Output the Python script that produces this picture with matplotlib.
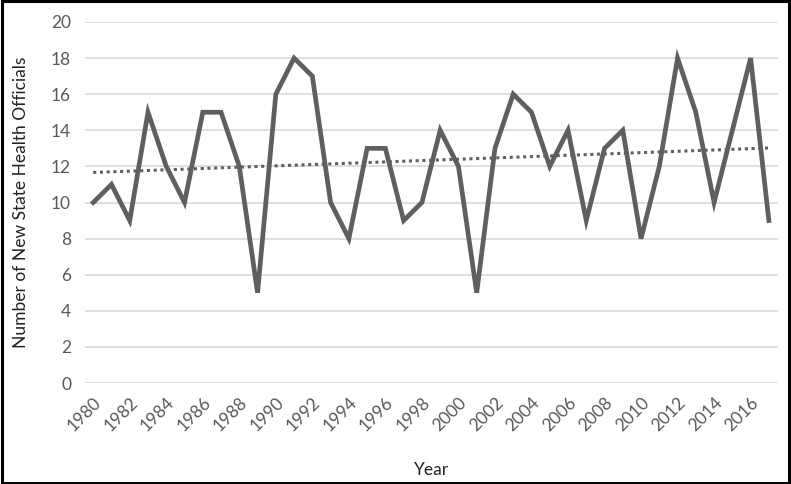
import numpy as np
import matplotlib
matplotlib.use("Agg")
import matplotlib.pyplot as plt
from matplotlib.patches import Rectangle

# Data
years = list(range(1980, 2018))
officials = [10, 11, 9, 15, 12, 10, 15, 15, 12, 5,
             16, 18, 17, 10, 8, 13, 13, 9, 10, 14,
             12, 5, 13, 16, 15, 12, 14, 9, 13, 14,
             8, 12, 18, 15, 10, 14, 18, 9]
xtick_years = list(range(1980, 2017, 2))
ytick_vals = list(range(0, 21, 2))

plt.rcParams['font.family'] = ['Lato', 'DejaVu Sans']

fig = plt.figure(figsize=(7.91, 4.84), dpi=100)
ax = fig.add_axes([85 / 791, 1 - 383 / 484, (778 - 85) / 791, (383 - 22) / 484])

# linear trendline (like the Excel one)
slope, intercept = np.polyfit(years, officials, 1)
trend = np.polyval([slope, intercept], years)

ax.plot(years, officials, color='#5f5f5f', linewidth=3.4, solid_joinstyle='miter', zorder=3)
ax.plot(years, trend, color='#5f5f5f', linewidth=2.2, linestyle=(0, (1, 1.2)), zorder=2)

ax.set_xlim(1979.55, 2017.5)
ax.set_ylim(0, 20)
ax.set_yticks(ytick_vals)
ax.set_xticks(xtick_years)
ax.set_xticklabels([str(y) for y in xtick_years], rotation=45, ha='right',
                   rotation_mode='anchor')
ax.tick_params(axis='both', length=0, labelsize=12.5, colors='#595959')
ax.tick_params(axis='x', pad=8)
ax.tick_params(axis='y', pad=10)

ax.grid(axis='y', color='#d9d9d9', linewidth=1.2)
ax.set_axisbelow(True)
for s in ax.spines.values():
    s.set_visible(False)

ax.set_ylabel('Number of New State Health Officials', fontsize=12.5, color='#222222', labelpad=16)
ax.set_xlabel('Year', fontsize=12.5, color='#222222', labelpad=20)

# black frame around whole image
fig.patches.append(Rectangle((0.002, 0.003), 0.996, 0.994, transform=fig.transFigure,
                             fill=False, edgecolor='black', linewidth=2.2))

fig.savefig('out.png', dpi=100)
